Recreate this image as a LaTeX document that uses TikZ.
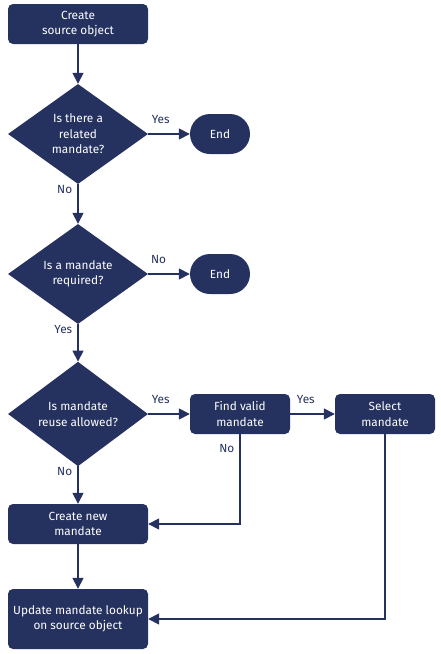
\documentclass[tikz,border=0pt]{standalone}
\usepackage{fontspec}
\setmainfont{Fira Sans}
\usetikzlibrary{shapes.geometric,arrows.meta}
\definecolor{navy}{HTML}{25315F}
\begin{document}
\begin{tikzpicture}[x=1pt,y=-1pt,
	>={Triangle[length=11pt,width=11pt]},
	every node/.style={font=\fontsize{11.8}{15.5}\selectfont},
	stepbox/.style={fill=navy,text=white,rounded corners=5pt,align=center,minimum width=140pt,minimum height=40pt,inner sep=2pt},
	endbox/.style={fill=navy,text=white,rounded corners=20pt,minimum width=60pt,minimum height=40pt},
	question/.style={diamond,fill=navy,text=white,align=center,minimum width=140pt,minimum height=100pt,inner sep=0pt},
	flow/.style={->,navy,line width=1.6pt},
	lbl/.style={text=navy,inner sep=5pt},
	uplbl/.style={lbl,above,yshift=5pt}]
	\useasboundingbox (0,0) rectangle (440,654);
	% main column
	\node[stepbox] (src) at (78,24) {Create\\source object};
	\node[question] (related) at (78,134) {Is there a\\related\\mandate?};
	\node[endbox] (end1) at (220,134) {End};
	\node[question] (required) at (78,274) {Is a mandate\\required?};
	\node[endbox] (end2) at (220,274) {End};
	\node[question] (reuse) at (78,414) {Is mandate\\reuse allowed?};
	\node[stepbox,minimum width=100pt] (find) at (240,414) {Find valid\\mandate};
	\node[stepbox,minimum width=100pt] (select) at (385,414) {Select\\mandate};
	\node[stepbox] (new) at (78,524) {Create new\\mandate};
	\node[stepbox,minimum height=60pt] (update) at (78,619) {Update mandate lookup\\on source object};
	% connectors
	\draw[flow] (src) -- (related);
	\draw[flow] (related) -- node[uplbl,pos=0.3]{Yes} (end1);
	\draw[flow] (related) -- node[lbl,left,pos=0.14]{No} (required);
	\draw[flow] (required) -- node[uplbl,pos=0.25]{No} (end2);
	\draw[flow] (required) -- node[lbl,left,pos=0.14]{Yes} (reuse);
	\draw[flow] (reuse) -- node[uplbl,pos=0.3]{Yes} (find);
	\draw[flow] (find) -- node[uplbl,pos=0.35]{Yes} (select);
	\draw[flow] (reuse) -- node[lbl,left,pos=0.14]{No} (new);
	\draw[flow] (find) |- node[lbl,left,pos=0.08]{No} (new);
	\draw[flow] (select) |- (update);
	\draw[flow] (new) -- (update);
\end{tikzpicture}
\end{document}
